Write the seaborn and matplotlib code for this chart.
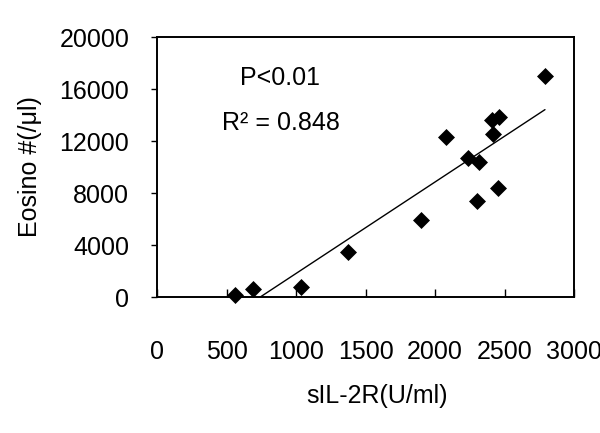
import matplotlib
matplotlib.use("Agg")
import matplotlib.pyplot as plt
import seaborn as sns
import pandas as pd

# values
sil2r = [561, 691, 1036, 1374, 1899, 2079, 2237, 2317, 2302, 2453, 2417, 2410, 2460, 2791]
eosino = [150, 615, 770, 3460, 5920, 12300, 10690, 10380, 7380, 8380, 12540, 13600, 13850, 17000]
x_ticks = [0, 500, 1000, 1500, 2000, 2500, 3000]
y_ticks = [0, 4000, 8000, 12000, 16000, 20000]

df = pd.DataFrame({"sIL-2R": sil2r, "Eosino": eosino})

sns.set_theme(style="white")
plt.rcParams["font.family"] = ["Liberation Sans", "DejaVu Sans"]

fig = plt.figure(figsize=(6, 4.33), dpi=100)
ax = fig.add_axes([0.2617, 0.314, 0.695, 0.6005])

sns.regplot(x="sIL-2R", y="Eosino", data=df, ax=ax, ci=None, marker="D",
            color="black",
            scatter_kws={"s": 75, "alpha": 1, "clip_on": False, "zorder": 3,
                         "linewidths": 0},
            line_kws={"lw": 1.0, "zorder": 2})

ax.set_xlim(0, 3000)
ax.set_ylim(0, 20000)
ax.set_xticks(x_ticks)
ax.set_yticks(y_ticks)

for side in ["left", "right", "top", "bottom"]:
    ax.spines[side].set_color("black")
    ax.spines[side].set_linewidth(1.4)
    ax.spines[side].set_visible(True)

ax.tick_params(axis="x", direction="in", length=6, width=1, colors="black",
               labelsize=18, pad=31, bottom=True)
ax.tick_params(axis="y", direction="out", length=4, width=1, colors="black",
               labelsize=18, pad=16, left=True)

ax.set_xlabel("sIL-2R(U/ml)", fontsize=18, color="black")
ax.set_ylabel("Eosino #(/\u03bcl)", fontsize=18, color="black")
ax.xaxis.set_label_coords(0.528, -0.335)
ax.yaxis.set_label_coords(-0.276, 0.5)

ax.text(0.199, 0.842, "P<0.01", transform=ax.transAxes, fontsize=18,
        ha="left", va="center", color="black")
ax.text(0.156, 0.669, "R\u00b2 = 0.848", transform=ax.transAxes, fontsize=18,
        ha="left", va="center", color="black")

fig.savefig("out.png", dpi=100)
plt.close(fig)
